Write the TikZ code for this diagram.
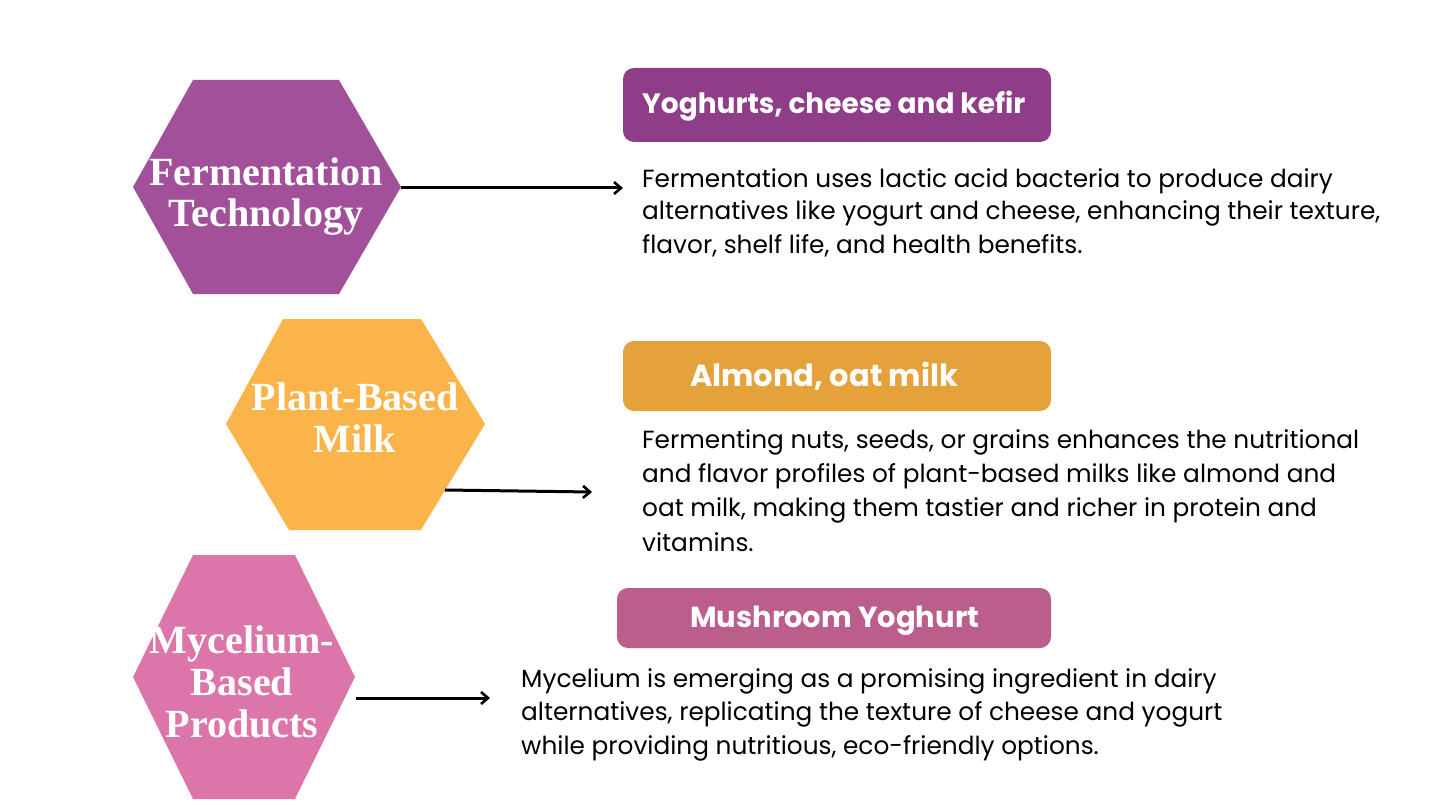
\documentclass[tikz,border=0pt]{standalone}
\usepackage{fontspec}
\setmainfont{Poppins}
\newfontfamily\hexfont{Liberation Serif}
\usetikzlibrary{arrows.meta, positioning}

\definecolor{fermcol}{HTML}{A3509B}
\definecolor{fermtag}{HTML}{8F3D88}
\definecolor{plantcol}{HTML}{FAB44A}
\definecolor{planttag}{HTML}{E5A23B}
\definecolor{myccol}{HTML}{DC76AA}
\definecolor{myctag}{HTML}{BC5E8C}

\begin{document}
\begin{tikzpicture}[
    % GLOBAL CFG
    x=1pt, y=-1pt,
    % Styles
    hexlabel/.style={% For the text on the hexagons
        text=white,
        align=center,
        inner sep=0pt,
        font=\hexfont\bfseries\fontsize{40}{42}\selectfont,
        },
    tagbox/.style={% For the coloured heading boxes
        rectangle,
        rounded corners=11pt,
        inner sep=0pt,
        },
    tagtext/.style={% For the heading texts
        text=white,
        inner sep=0pt,
        font=\bfseries\fontsize{28}{30}\selectfont,
        },
    body/.style={% For the explanations
        align=left,
        inner sep=0pt,
        font=\fontsize{24.8}{33.5}\selectfont,
        },
    link/.style={% Arrows
        line width=3pt,
        -{Straight Barb[length=7pt, width=12pt, line width=2.6pt]},
        }
    ]

    \useasboundingbox (0,0) rectangle (1432,805);

    % Draw the hexagons
    \fill[fermcol] (193,80) -- (339,80) -- (401,187) -- (339,294) -- (193,294) -- (133,187) -- cycle;
    \fill[plantcol] (283,319) -- (421,319) -- (485,424) -- (421,530) -- (289,530) -- (226,424) -- cycle;
    \fill[myccol] (193,555) -- (295,555) -- (355,677) -- (295,799) -- (193,799) -- (133,677) -- cycle;

    % Hexagon labels (anchored on the last line)
    \node[hexlabel, anchor=base, font=\hexfont\bfseries\fontsize{40}{40}\selectfont] (ferm) at (266,226) {Fermentation\\Technology};
    \node[hexlabel, anchor=base] (plant) at (355,452) {Plant-Based\\Milk};
    \node[hexlabel, anchor=base] (myc) at (242,737) {Mycelium-\\Based\\Products};

    % Heading boxes
    \node[tagbox, fill=fermtag, minimum width=428, minimum height=74] (fermbox) at (837,105) {};
    \node[tagbox, fill=planttag, minimum width=428, minimum height=70] (plantbox) at (837,376) {};
    \node[tagbox, fill=myctag, minimum width=434, minimum height=60] (mycbox) at (834,618) {};

    \node[tagtext, anchor=base west] (fermtitle) at (642,114) {Yoghurts, cheese and kefir};
    \node[tagtext, anchor=base west, font=\bfseries\fontsize{30.5}{32}\selectfont] (planttitle) at (690,386) {Almond, oat milk};
    \node[tagtext, anchor=base west, font=\bfseries\fontsize{29}{32}\selectfont] (myctitle) at (690,627) {Mushroom Yoghurt};

    % Explanations (anchored on the last line)
    \node[body, anchor=base west, font=\fontsize{24.8}{33}\selectfont] (fermtxt) at (642,253) {Fermentation uses lactic acid bacteria to produce dairy\\alternatives like yogurt and cheese, enhancing their texture,\\flavor, shelf life, and health benefits.};
    \node[body, anchor=base west, font=\fontsize{24.8}{34.3}\selectfont] (planttxt) at (642,551) {Fermenting nuts, seeds, or grains enhances the nutritional\\and flavor profiles of plant-based milks like almond and\\oat milk, making them tastier and richer in protein and\\vitamins.};
    \node[body, anchor=base west] (myctxt) at (521,754) {Mycelium is emerging as a promising ingredient in dairy\\alternatives, replicating the texture of cheese and yogurt\\while providing nutritious, eco-friendly options.};

    % Arrow ends
    \coordinate (fermout) at (401,188);
    \coordinate (fermin) at (623,188);
    \coordinate (plantout) at (445,490);
    \coordinate (plantin) at (592,492);
    \coordinate (mycout) at (356,698);
    \coordinate (mycin) at (490,698);

    % Arrows
    \draw[link] (fermout) -- (fermin);
    \draw[link] (plantout) -- (plantin);
    \draw[link] (mycout) -- (mycin);

\end{tikzpicture}
\end{document}
